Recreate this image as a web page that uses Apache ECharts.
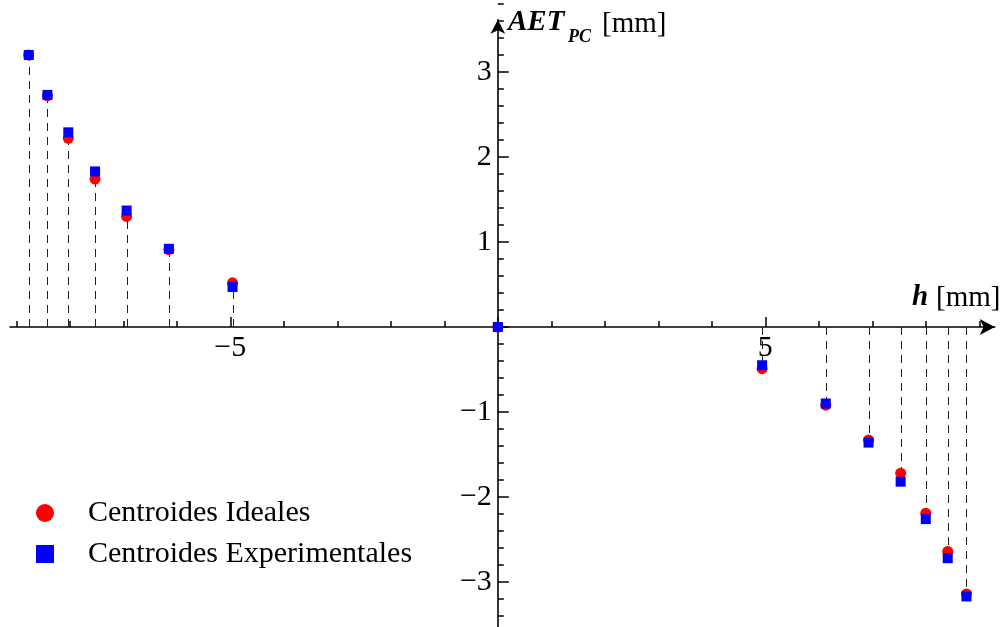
<!DOCTYPE html>
<html>
<head>
<meta charset="utf-8">
<script src="https://cdn.jsdelivr.net/npm/echarts@6/dist/echarts.min.js"></script>
<style>
  html, body { margin: 0; padding: 0; background: #fff; }
  #chart { width: 1006px; height: 627px; }
</style>
</head>
<body>
<div id="chart"></div>
<script>
// Displacement h [mm] of each centroid
const hValues = [-8.77, -8.42, -8.03, -7.53, -6.94, -6.15, -4.96, 0,
                 4.94, 6.13, 6.93, 7.53, 8.00, 8.41, 8.76];
// Ideal centroids AET_PC [mm]
const aetIdeal = [3.20, 2.72, 2.22, 1.74, 1.30, 0.91, 0.52, 0,
                  -0.49, -0.92, -1.33, -1.72, -2.19, -2.64, -3.14];
// Experimental centroids AET_PC [mm]
const aetExperimental = [3.20, 2.73, 2.29, 1.83, 1.37, 0.92, 0.47, 0,
                         -0.45, -0.90, -1.36, -1.82, -2.26, -2.72, -3.17];
// Tick labels
const xTickLabels = { '-5': '\u22125', '5': '5' };
const yTickLabels = { '-3': '\u22123', '-2': '\u22122', '-1': '\u22121', '1': '1', '2': '2', '3': '3' };

const serif = '"Liberation Serif", "Times New Roman", serif';

const idealData = hValues.map((h, i) => [h, aetIdeal[i]]);
const expData = hValues.map((h, i) => [h, aetExperimental[i]]);
const dropData = idealData.concat(expData);

const chart = echarts.init(document.getElementById('chart'), null, { renderer: 'canvas' });

const axisLineStyle = { color: '#000', width: 1.6 };
const tickStyle = { color: '#000', width: 1.5 };

chart.setOption({
  animation: false,
  backgroundColor: '#fff',
  grid: [
    // plotting area with the arrowed axes crossing at the origin
    { left: 10, right: 11.2, top: 19.7, bottom: -6, containLabel: false, outerBoundsMode: 'none' },
    // band whose bottom edge is the h axis: carries the h ticks and labels
    { left: -37.2, right: -26.8, top: 0, bottom: 300, containLabel: false, outerBoundsMode: 'none' },
    // band whose left edge is the AET axis: carries the AET ticks and labels
    { left: 497.8, right: 0, top: -13, bottom: -40, containLabel: false, outerBoundsMode: 'none' }
  ],
  xAxis: [
    {
      gridIndex: 0, type: 'value', min: -9.12, max: 9.29,
      axisLine: { onZero: true, lineStyle: axisLineStyle, symbol: ['none', 'arrow'], symbolSize: [12, 15] },
      axisTick: { show: false }, axisLabel: { show: false }, splitLine: { show: false }
    },
    {
      gridIndex: 1, type: 'value', position: 'bottom', min: -10, max: 10, interval: 5,
      axisLine: { show: false, onZero: false },
      axisTick: { show: true, inside: true, length: 10, lineStyle: tickStyle },
      minorTick: { show: true, splitNumber: 5, length: 6, lineStyle: tickStyle },
      axisLabel: {
        margin: 6, color: '#000', fontFamily: serif, fontSize: 30,
        formatter: v => xTickLabels[String(v)] || ''
      },
      splitLine: { show: false }
    },
    { gridIndex: 2, type: 'value', min: 0, max: 1, show: false }
  ],
  yAxis: [
    {
      gridIndex: 0, type: 'value', min: -3.6, max: 3.615,
      axisLine: { onZero: true, lineStyle: axisLineStyle, symbol: ['none', 'arrow'], symbolSize: [11, 14] },
      axisTick: { show: false }, axisLabel: { show: false }, splitLine: { show: false }
    },
    { gridIndex: 1, type: 'value', min: 0, max: 1, show: false },
    {
      gridIndex: 2, type: 'value', position: 'left', min: -4, max: 4, interval: 1,
      axisLine: { show: false, onZero: false },
      axisTick: { show: true, inside: true, length: 11, lineStyle: tickStyle },
      minorTick: { show: true, splitNumber: 5, length: 6, lineStyle: tickStyle },
      axisLabel: {
        margin: 6, color: '#000', fontFamily: serif, fontSize: 30,
        formatter: v => yTickLabels[String(v)] || ''
      },
      splitLine: { show: false }
    }
  ],
  legend: {
    orient: 'vertical', left: 36, top: 498, padding: 0,
    itemWidth: 18, itemHeight: 18, itemGap: 11,
    textStyle: { fontFamily: serif, fontSize: 30, lineHeight: 30, color: '#000', padding: [0, 0, 0, 29] },
    data: [
      { name: 'Centroides Ideales', icon: 'circle' },
      { name: 'Centroides Experimentales', icon: 'rect' }
    ]
  },
  series: [
    {
      // dashed drop lines from the h axis to every centroid
      type: 'custom', xAxisIndex: 0, yAxisIndex: 0, z: 1, silent: true,
      data: dropData,
      renderItem: (params, api) => {
        const x = api.value(0), y = api.value(1);
        const p0 = api.coord([x, 0]);
        const p1 = api.coord([x, y]);
        return {
          type: 'line',
          shape: { x1: Math.round(p0[0]) + 0.5, y1: p0[1], x2: Math.round(p1[0]) + 0.5, y2: p1[1] },
          style: { stroke: '#222', lineWidth: 1, lineDash: [8, 6] }
        };
      }
    },
    {
      name: 'Centroides Ideales', type: 'scatter', xAxisIndex: 0, yAxisIndex: 0, z: 3,
      symbol: 'circle', symbolSize: 11,
      itemStyle: { color: '#ff0000', opacity: 1 },
      data: idealData
    },
    {
      name: 'Centroides Experimentales', type: 'scatter', xAxisIndex: 0, yAxisIndex: 0, z: 4,
      symbol: 'rect', symbolSize: 10,
      itemStyle: { color: '#0000ff', opacity: 1 },
      data: expData
    }
  ],
  graphic: [
    { type: 'text', x: 508, y: 23, style: { text: 'AET', font: 'italic bold 29px ' + serif, fill: '#000', textVerticalAlign: 'middle' } },
    { type: 'text', x: 568, y: 37, style: { text: 'PC', font: 'italic bold 18px ' + serif, fill: '#000', textVerticalAlign: 'middle' } },
    { type: 'text', x: 602, y: 24, style: { text: '[mm]', font: '29px ' + serif, fill: '#000', textVerticalAlign: 'middle' } },
    { type: 'text', x: 912, y: 298, style: { text: 'h', font: 'italic bold 29px ' + serif, fill: '#000', textVerticalAlign: 'middle' } },
    { type: 'text', x: 936, y: 298, style: { text: '[mm]', font: '29px ' + serif, fill: '#000', textVerticalAlign: 'middle' } }
  ]
});
</script>
</body>
</html>
